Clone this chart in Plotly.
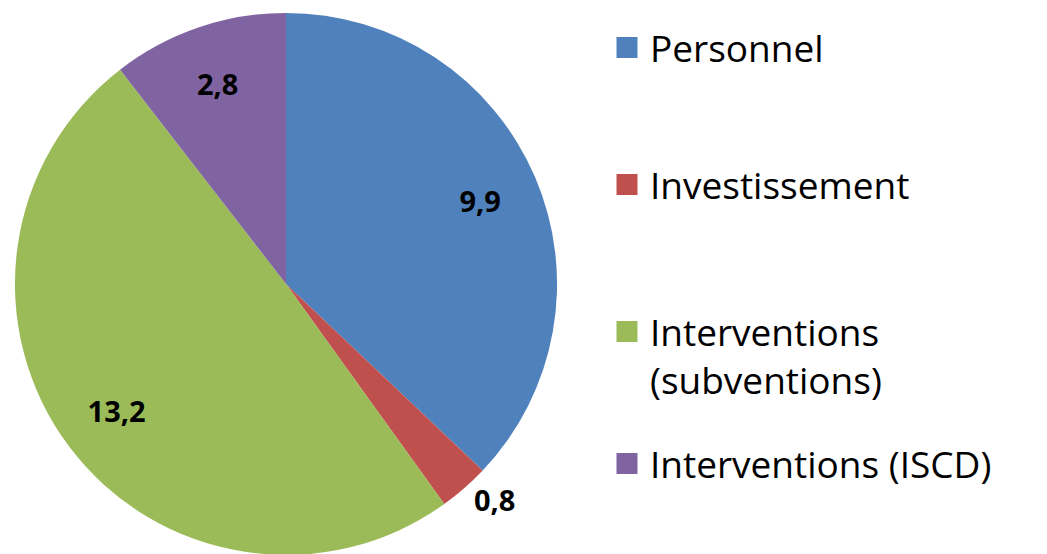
import plotly.graph_objects as go

categories = ["Personnel", "Investissement", "Interventions (subventions)", "Interventions (ISCD)"]
legend_labels = ["Personnel", "Investissement", "Interventions<br>(subventions)", "Interventions (ISCD)"]
values = [9.9, 0.8, 13.2, 2.8]
colors = ["#4F81BD", "#C0504D", "#9BBB59", "#8064A2"]
text_positions = ["inside", "outside", "inside", "inside"]

W, H = 1047, 560
FONT = "Open Sans"

value_text = [f"{v:.1f}".replace(".", ",") for v in values]
domain = dict(x=[(286 - 273) / W, (286 + 273) / W], y=[(H - 559) / H, (H - 13) / H])

fig = go.Figure()
# filled pie
fig.add_trace(go.Pie(
    labels=categories, values=values,
    textinfo="none",
    marker=dict(colors=colors, line=dict(width=0)),
    sort=False, direction="clockwise", rotation=0,
    showlegend=False, hoverinfo="label+value",
    domain=domain,
))
# transparent ring carrying the data labels near the rim
fig.add_trace(go.Pie(
    labels=categories, values=values,
    text=value_text, textinfo="text",
    textposition=text_positions,
    insidetextorientation="horizontal",
    textfont=dict(family=FONT, size=29, color="black", weight="bold"),
    marker=dict(colors=["rgba(0,0,0,0)"] * len(values), line=dict(width=0)),
    hole=0.56,
    sort=False, direction="clockwise", rotation=0,
    showlegend=False, hoverinfo="skip",
    domain=domain,
))

legend_ids = ["legend", "legend2", "legend3", "legend4"]
legend_tops = [17, 155, 303, 436]
for name, col, lid in zip(legend_labels, colors, legend_ids):
    fig.add_trace(go.Scatter(
        x=[None], y=[None], mode="markers", name=name,
        marker=dict(symbol="square", size=16, color=col, line=dict(width=5, color=col)),
        legend=lid, showlegend=True,
    ))

layout_legends = {}
for lid, top in zip(legend_ids, legend_tops):
    layout_legends[lid] = dict(
        x=604 / W, xanchor="left", y=1 - top / H, yanchor="top",
        font=dict(family=FONT, size=37, color="black"),
        bgcolor="rgba(0,0,0,0)", borderwidth=0, valign="top",
        itemwidth=36,
    )

fig.update_layout(
    width=W, height=H,
    margin=dict(l=0, r=0, t=0, b=0),
    paper_bgcolor="white", plot_bgcolor="white",
    xaxis=dict(visible=False), yaxis=dict(visible=False),
    **layout_legends,
)

fig.write_html("out.html", config={"displayModeBar": False},
               post_script="document.body.style.margin='0';document.body.style.overflow='hidden';")
